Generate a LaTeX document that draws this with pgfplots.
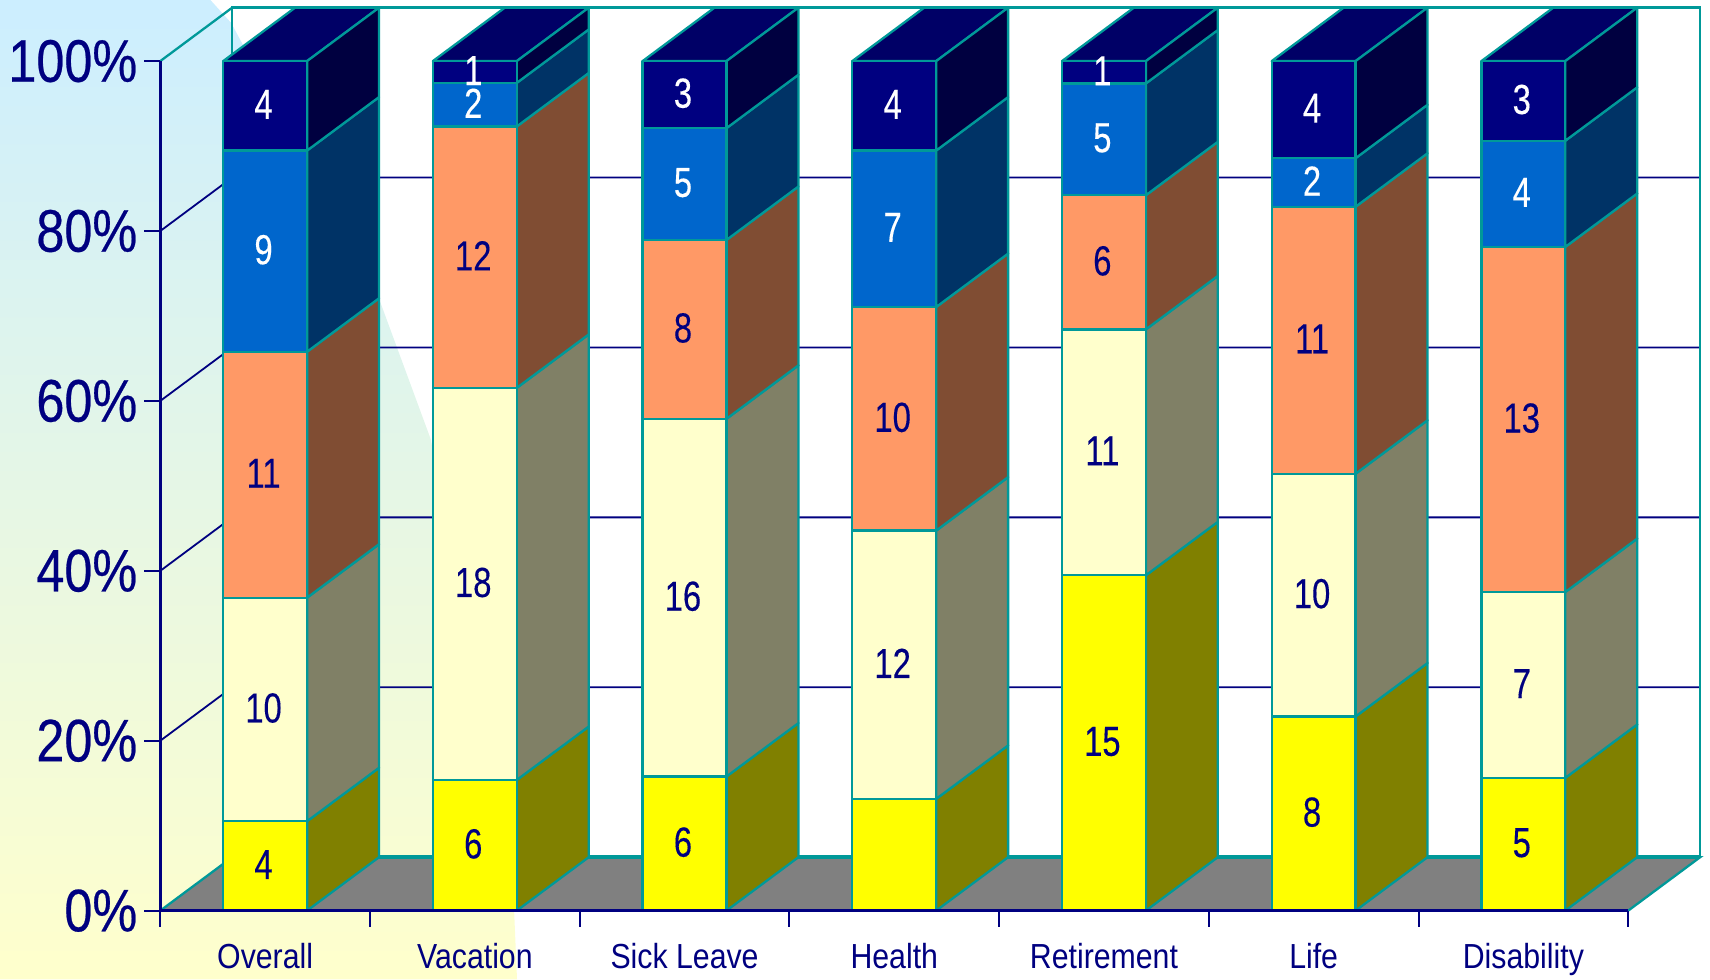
\documentclass[border=0pt]{standalone}
\usepackage{pgfplots}
\usepackage{fontspec}
\pgfplotsset{compat=1.18}
\setmainfont{Liberation Sans}
\newfontfamily\tickfam[FakeStretch=0.84,FakeBold=0.4]{Liberation Sans}
\newfontfamily\valuefam[FakeStretch=0.78,FakeBold=0.25]{Liberation Sans}
\newfontfamily\catfam[FakeStretch=0.87]{Liberation Sans}
\newcommand{\tickfont}{\tickfam\fontsize{30}{32}\selectfont}
\newcommand{\barfont}{\valuefam\fontsize{21}{23}\selectfont}
\newcommand{\catfont}{\catfam\fontsize{17.4}{20}\selectfont}

\definecolor{navyline}{HTML}{000080}
\definecolor{edge}{HTML}{009999}
\definecolor{floorgrey}{HTML}{808080}
\definecolor{skytop}{HTML}{CCEEFF}
\definecolor{creambottom}{HTML}{FFFFCC}
\definecolor{yellowF}{HTML}{FFFF00}
\definecolor{yellowS}{HTML}{808000}
\definecolor{creamF}{HTML}{FFFFCC}
\definecolor{creamS}{HTML}{808066}
\definecolor{orangeF}{HTML}{FF9966}
\definecolor{orangeS}{HTML}{804D33}
\definecolor{blueF}{HTML}{0066CC}
\definecolor{blueS}{HTML}{003366}
\definecolor{navyF}{HTML}{000080}
\definecolor{navyS}{HTML}{000040}
\definecolor{navyT}{HTML}{000066}

% depth of the 3D projection, in axis units
\newcommand{\dx}{0.343}
\newcommand{\dy}{6.29}

\pgfplotsset{
  plotbox/.style={scale only axis, width=734pt, height=424.8pt,
    xmin=0, xmax=7, ymin=0, ymax=100, clip=false},
  face/.style={draw=edge, line width=1.15pt, line join=round, fill=#1},
  seglabel/.style={draw=none, point meta=explicit symbolic, nodes near coords,
    nodes near coords style={anchor=center, font=\barfont, text=#1, xshift=-0.8pt, yshift=0.7pt,
      inner sep=0pt, outer sep=0pt}},
}

% one block of a column: position, lower and upper edge, front and side colour, label, label colour
\newcommand{\drawSegment}[7]{%
  \pgfmathsetmacro\xa{#1+0.3}%
  \pgfmathsetmacro\xb{#1+0.7}%
  \pgfmathsetmacro\xc{#1+0.7+\dx}%
  \pgfmathsetmacro\loB{#2+\dy}%
  \pgfmathsetmacro\hiB{#3+\dy}%
  \pgfmathsetmacro\xm{#1+0.5}%
  \pgfmathsetmacro\ym{(#2+#3)/2}%
  \edef\seg{%
    \noexpand\addplot[face=#5] coordinates {(\xb,#2)(\xc,\loB)(\xc,\hiB)(\xb,#3)} --cycle;%
    \noexpand\addplot[face=#4] coordinates {(\xa,#2)(\xb,#2)(\xb,#3)(\xa,#3)} --cycle;%
  }\seg
  \if\relax\detokenize{#6}\relax\else
    \edef\lab{\noexpand\addplot[seglabel=#7] coordinates {(\xm,\ym) [#6]};}\lab
  \fi
}

% one column, shown as shares of its five counts; the last argument is the label of the lowest block
\newcommand{\drawColumn}[7]{%
  \pgfmathsetmacro\tot{#2+#3+#4+#5+#6}%
  \pgfmathsetmacro\ya{#2/\tot*100}%
  \pgfmathsetmacro\yb{(#2+#3)/\tot*100}%
  \pgfmathsetmacro\yc{(#2+#3+#4)/\tot*100}%
  \pgfmathsetmacro\yd{(#2+#3+#4+#5)/\tot*100}%
  \pgfmathsetmacro\xa{#1+0.3}%
  \pgfmathsetmacro\xb{#1+0.7}%
  \pgfmathsetmacro\xc{#1+0.7+\dx}%
  \pgfmathsetmacro\xd{#1+0.3+\dx}%
  \pgfmathsetmacro\yt{100+\dy}%
  \edef\topface{\noexpand\addplot[face=navyT] coordinates {(\xa,100)(\xd,\yt)(\xc,\yt)(\xb,100)} --cycle;}\topface
  \edef\ssa{\ya}\edef\ssb{\yb}\edef\ssc{\yc}\edef\ssd{\yd}%
  \drawSegment{#1}{0}{\ssa}{yellowF}{yellowS}{#7}{navyline}%
  \drawSegment{#1}{\ssa}{\ssb}{creamF}{creamS}{#3}{navyline}%
  \drawSegment{#1}{\ssb}{\ssc}{orangeF}{orangeS}{#4}{navyline}%
  \drawSegment{#1}{\ssc}{\ssd}{blueF}{blueS}{#5}{white}%
  \drawSegment{#1}{\ssd}{100}{navyF}{navyS}{#6}{white}%
}

\begin{document}
\begin{tikzpicture}
% pale backdrop at the left of the page, behind everything else
\begin{axis}[plotbox, hide axis]
\shade[top color=skytop, bottom color=creambottom]
  (axis cs:-0.7645,107.19) -- (axis cs:0.239,107.19) -- (axis cs:0.338,104.49)
  -- (axis cs:1.045,71.89) -- (axis cs:1.290,55.46) -- (axis cs:1.685,1.28)
  -- (axis cs:1.701,-8.087) -- (axis cs:-0.7645,-8.087) -- cycle;
\coordinate (pageSW) at (axis cs:-0.7645,-8.087);
\coordinate (pageNE) at (axis cs:7.39,107.19);
\end{axis}

\begin{axis}[
  plotbox,
  axis on top,
  no markers,
  axis lines=left,
  axis line style={-, draw=navyline, line width=1.2pt},
  tick align=outside,
  xtick={0.5,1.5,2.5,3.5,4.5,5.5,6.5},
  xticklabels={Overall,Vacation,Sick Leave,Health,Retirement,Life,Disability},
  minor xtick={0,1,2,3,4,5,6,7},
  major x tick style={draw=none},
  minor x tick style={draw=navyline, line width=1pt},
  minor tick length=8pt,
  major tick length=8pt,
  xticklabel style={font=\catfont, text=navyline, yshift=-4.7pt},
  ytick={0,20,40,60,80,100},
  y tick style={draw=navyline, line width=1pt},
  yticklabel={\pgfmathprintnumber{\tick}\%},
  yticklabel style={font=\tickfont, text=navyline, /pgf/number format/assume math mode=true},
]
% floor of the box
\addplot[fill=floorgrey, draw=edge, line width=1.15pt] coordinates {(0,0)(7,0)(7.343,6.29)(0.343,6.29)} --cycle;
\addplot[draw=edge, line width=1.8pt] coordinates {(0.343,6.29)(7.343,6.29)};

% gridlines running up the side and along the back wall
\addplot[draw=navyline, line width=0.9pt] coordinates {(0,20)(0.343,26.29)(7.343,26.29)};
\addplot[draw=navyline, line width=0.9pt] coordinates {(0,40)(0.343,46.29)(7.343,46.29)};
\addplot[draw=navyline, line width=0.9pt] coordinates {(0,60)(0.343,66.29)(7.343,66.29)};
\addplot[draw=navyline, line width=0.9pt] coordinates {(0,80)(0.343,86.29)(7.343,86.29)};

% outline of the back wall
\addplot[draw=edge, line width=1.15pt] coordinates {(0.343,6.29)(0.343,106.29)(7.343,106.29)(7.343,6.29)};
\addplot[draw=edge, line width=1.15pt] coordinates {(0,100)(0.343,106.29)};

% position, then counts from bottom block to top block, then the label of the bottom block
\drawColumn{0}{4}{10}{11}{9}{4}{4}
\drawColumn{1}{6}{18}{12}{2}{1}{6}
\drawColumn{2}{6}{16}{8}{5}{3}{6}
\drawColumn{3}{5}{12}{10}{7}{4}{}
\drawColumn{4}{15}{11}{6}{5}{1}{15}
\drawColumn{5}{8}{10}{11}{2}{4}{8}
\drawColumn{6}{5}{7}{13}{4}{3}{5}
\end{axis}
\pgfresetboundingbox
\path[use as bounding box] (pageSW) rectangle (pageNE);
\end{tikzpicture}
\end{document}
